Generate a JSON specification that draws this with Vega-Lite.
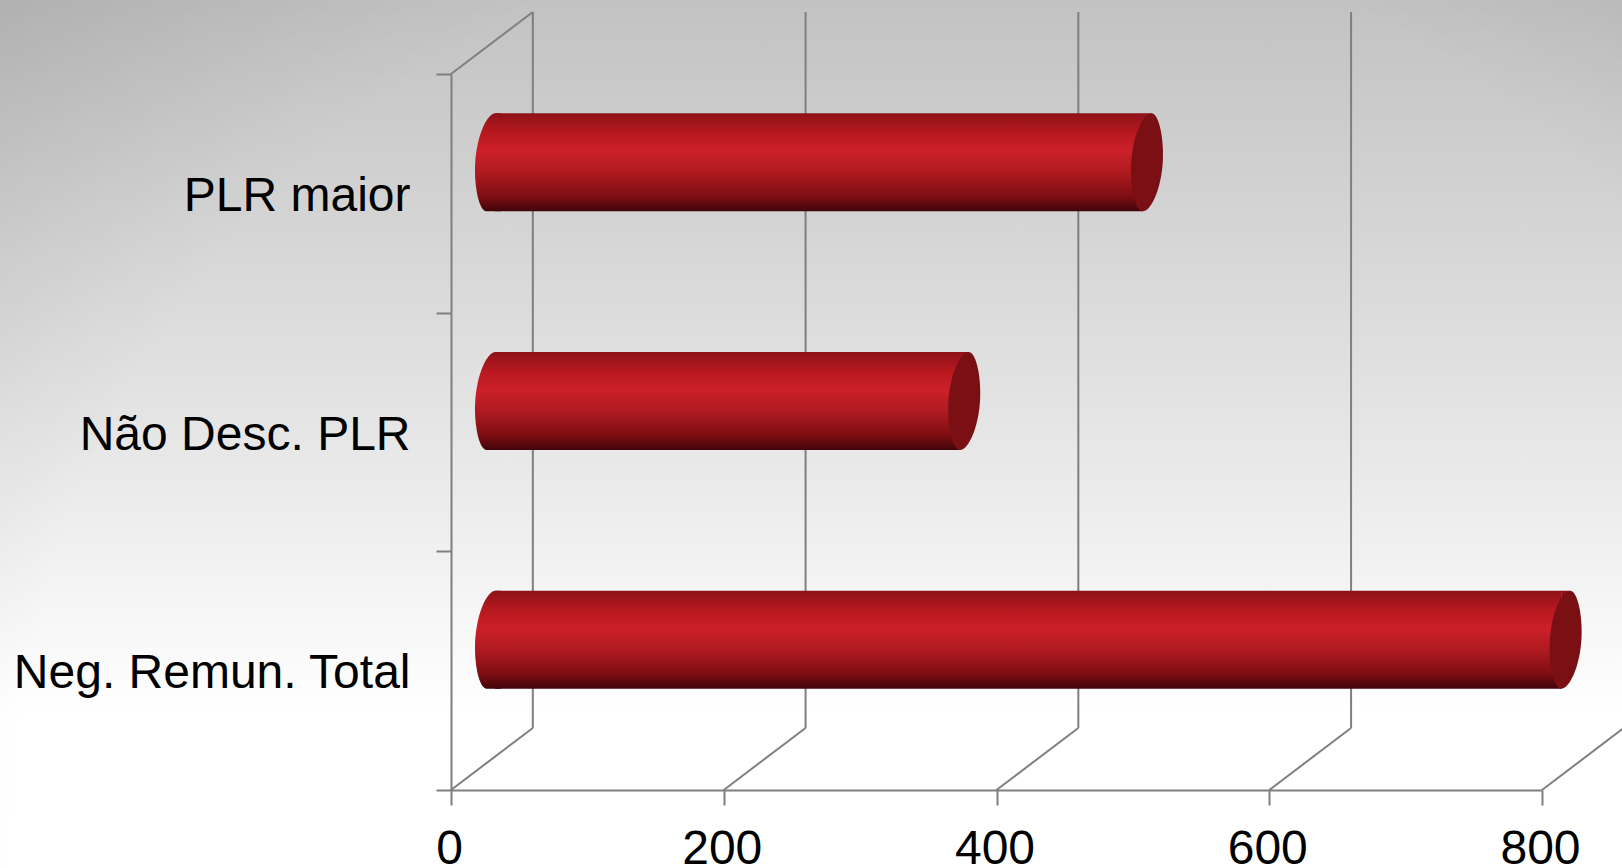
{"$schema":"https://vega.github.io/schema/vega-lite/v6.json","width":1091,"height":716,"autosize":"none","padding":{"left":451,"top":74,"right":80,"bottom":78},"background":"#ffffff",
"datasets":{"bars":[{"categoria":"PLR maior","inicio":0,"valor":481},{"categoria":"Não Desc. PLR","inicio":0,"valor":347},{"categoria":"Neg. Remun. Total","inicio":0,"valor":788}],
"fundo":[{"x":-331,"x2":860,"y":-0.33,"y2":3.32}],
"paredes":[{"x":0,"x2":60,"y":0,"y2":0.26},{"x":200,"x2":260,"y":0,"y2":0.26},{"x":400,"x2":460,"y":0,"y2":0.26},{"x":600,"x2":660,"y":0,"y2":0.26},{"x":800,"x2":860,"y":0,"y2":0.26},{"x":0,"x2":60,"y":3,"y2":3.26}],
"grades":[{"x":60,"y":0.26,"y2":3.26},{"x":260,"y":0.26,"y2":3.26},{"x":460,"y":0.26,"y2":3.26},{"x":660,"y":0.26,"y2":3.26}]},
"layer":[
{"layer":[
{"data":{"name":"fundo"},"mark":{"type":"rect","fill":{"gradient":"linear","x1":0,"y1":0,"x2":0,"y2":1,"stops":[{"offset":0,"color":"#c2c2c2"},{"offset":0.45,"color":"#e2e2e2"},{"offset":0.82,"color":"#ffffff"},{"offset":1,"color":"#ffffff"}]}},"encoding":{"x":{"field":"x","type":"quantitative","title":null,"axis":{"zindex":1,"values":[0,200,400,600,800],"title":null,"grid":false,"domainColor":"#7f7f7f","domainWidth":2,"tickColor":"#7f7f7f","tickWidth":2,"tickSize":15,"labelFont":"Liberation Sans","labelFontSize":48,"labelColor":"#000000","labelPadding":20,"labelOffset":-2,"labelFlush":false,"labelOverlap":false},"scale":{"domain":[0,800],"nice":false}},"x2":{"field":"x2"},"y":{"field":"y","type":"quantitative","axis":null,"scale":{"domain":[0,3],"nice":false}},"y2":{"field":"y2"}}},
{"data":{"name":"fundo"},"mark":{"type":"rect","fill":{"gradient":"radial","x1":0.58,"y1":0.75,"r1":0,"x2":0.58,"y2":0.75,"r2":0.95,"stops":[{"offset":0,"color":"rgba(0,0,0,0)"},{"offset":0.6,"color":"rgba(0,0,0,0)"},{"offset":1,"color":"rgba(0,0,0,0.17)"}]}},"encoding":{"x":{"field":"x","type":"quantitative","title":null},"x2":{"field":"x2"},"y":{"field":"y","type":"quantitative","axis":null},"y2":{"field":"y2"}}},
{"data":{"name":"grades"},"mark":{"type":"rule","color":"#7f7f7f","strokeWidth":2},"encoding":{"x":{"field":"x","type":"quantitative","title":null},"y":{"field":"y","type":"quantitative","axis":null},"y2":{"field":"y2"}}},
{"data":{"name":"paredes"},"mark":{"type":"rule","color":"#7f7f7f","strokeWidth":2},"encoding":{"x":{"field":"x","type":"quantitative","title":null},"x2":{"field":"x2"},"y":{"field":"y","type":"quantitative","axis":null},"y2":{"field":"y2"}}}
]},
{"data":{"name":"bars"},"encoding":{"y":{"field":"categoria","type":"nominal","sort":null,"title":null,"axis":{"zindex":1,"domainColor":"#7f7f7f","domainWidth":2,"tickColor":"#7f7f7f","tickWidth":2,"tickSize":15,"tickBand":"extent","tickExtra":true,"labelFont":"Liberation Sans","labelFontSize":48,"labelColor":"#000000","labelPadding":26,"labelLimit":500,"labelOffset":3},"scale":{"paddingInner":0,"paddingOuter":0}}},
"layer":[
{"mark":{"type":"point","filled":true,"size":9604,"opacity":1,"xOffset":40,"yOffset":-31,"shape":"M0.09,-1 C-0.1,-1 -0.327,-0.45 -0.327,0.15 C-0.327,0.62 -0.22,1 -0.09,1 L0.2,1 L0.2,-1 Z","fill":{"gradient":"linear","x1":0,"y1":0,"x2":0,"y2":1,"stops":[{"offset":0,"color":"#8c1218"},{"offset":0.2,"color":"#b8181f"},{"offset":0.38,"color":"#cc2029"},{"offset":0.6,"color":"#b01a20"},{"offset":0.85,"color":"#7d0e13"},{"offset":1,"color":"#40040a"}]}},"encoding":{"x":{"field":"inicio","type":"quantitative","title":null}}},
{"mark":{"type":"bar","size":98,"xOffset":44,"x2Offset":36,"yOffset":-31,"fill":{"gradient":"linear","x1":0,"y1":0,"x2":0,"y2":1,"stops":[{"offset":0,"color":"#8c1218"},{"offset":0.2,"color":"#b8181f"},{"offset":0.38,"color":"#cc2029"},{"offset":0.6,"color":"#b01a20"},{"offset":0.85,"color":"#7d0e13"},{"offset":1,"color":"#40040a"}]}},"encoding":{"x":{"field":"inicio","type":"quantitative","title":null},"x2":{"field":"valor"}}},
{"mark":{"type":"point","filled":true,"size":9604,"opacity":1,"xOffset":40,"yOffset":-31,"shape":"M-0.09,-1 L0.09,-1 L0.2,0 L-0.09,1 Z","fill":{"gradient":"linear","x1":0,"y1":0,"x2":0,"y2":1,"stops":[{"offset":0,"color":"#8c1218"},{"offset":0.2,"color":"#b8181f"},{"offset":0.38,"color":"#cc2029"},{"offset":0.6,"color":"#b01a20"},{"offset":0.85,"color":"#7d0e13"},{"offset":1,"color":"#40040a"}]}},"encoding":{"x":{"field":"valor","type":"quantitative","title":null}}},
{"mark":{"type":"point","filled":true,"size":9604,"opacity":1,"color":"#7a0f14","xOffset":40,"yOffset":-31,"shape":"M0.09,-1 C0.22,-1 0.327,-0.62 0.327,-0.15 C0.327,0.45 0.1,1 -0.09,1 C-0.22,1 -0.327,0.62 -0.327,0.15 C-0.327,-0.45 -0.1,-1 0.09,-1 Z"},"encoding":{"x":{"field":"valor","type":"quantitative","title":null}}}
]}
],
"resolve":{"scale":{"y":"independent"}},
"config":{"view":{"stroke":null}}}
